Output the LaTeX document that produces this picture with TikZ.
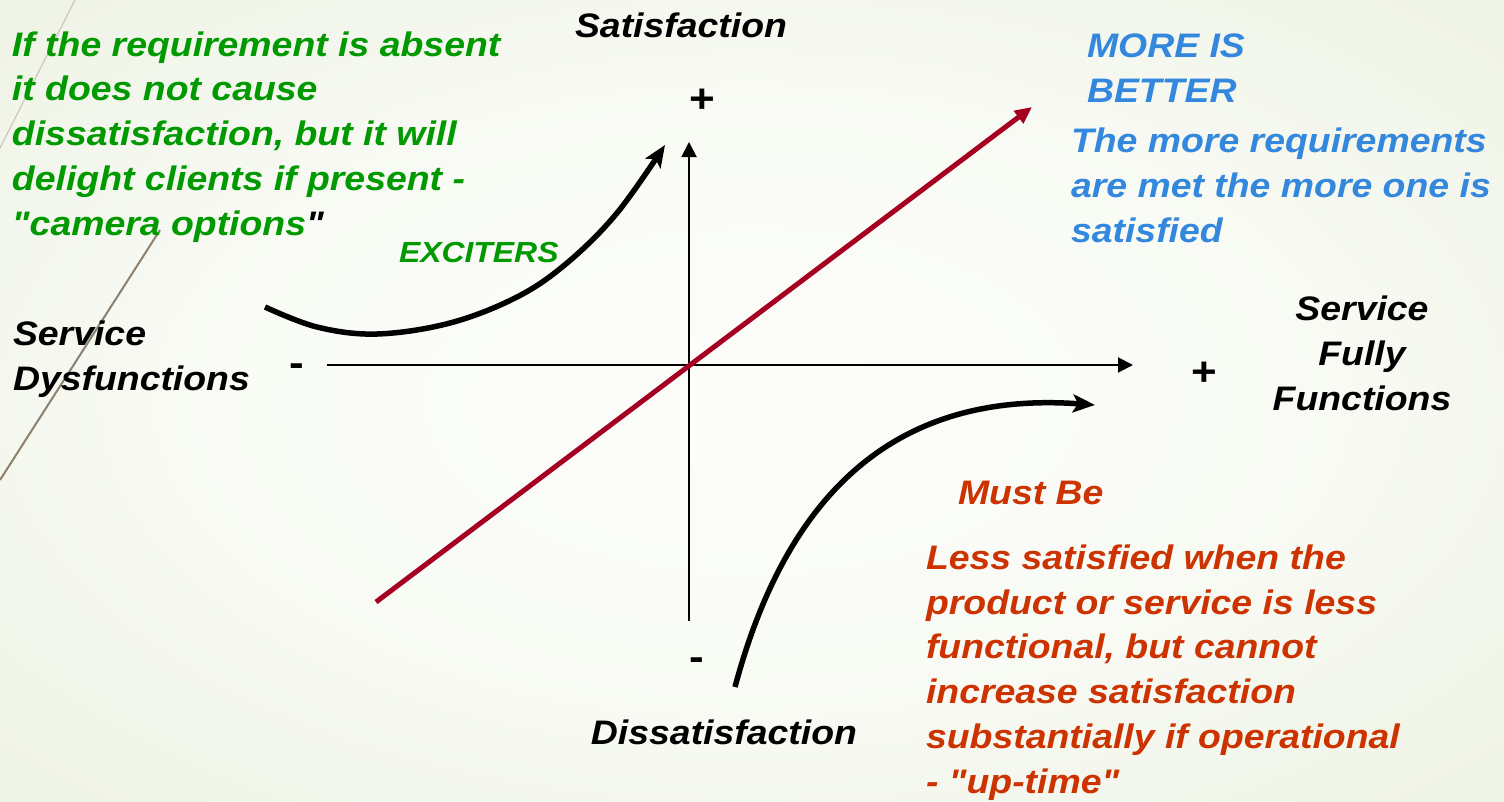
\documentclass[tikz,border=0pt]{standalone}
\usepackage{fontspec}
\setmainfont{Liberation Sans}[FakeStretch=1.1, Ligatures=TeXOff]
\usetikzlibrary{arrows.meta}
\definecolor{exgreen}{RGB}{0,153,0}
\definecolor{mbblue}{RGB}{51,136,221}
\definecolor{mbred}{RGB}{204,51,0}
\definecolor{linered}{RGB}{165,0,33}
\definecolor{decogray}{RGB}{200,200,190}
\definecolor{decobrown}{RGB}{140,128,110}
\pgfdeclareradialshading{bgshade}{\pgfpointorigin}{rgb(0bp)=(0.99,0.993,0.98); rgb(18bp)=(0.975,0.982,0.96); rgb(71bp)=(0.86,0.895,0.77)}
\begin{document}
\begin{tikzpicture}[x=1pt,y=-1pt,
  txt/.style={font=\bfseries\itshape\fontsize{34}{44.7}\selectfont, inner sep=0pt, outer sep=0pt, align=left},
  sign/.style={font=\bfseries\fontsize{40}{40}\selectfont, inner sep=0pt, outer sep=0pt},
  axisline/.style={line width=2pt, -{Triangle[length=15pt,width=15pt]}},
  curvearrow/.style={line width=5.5pt, -{Stealth[length=22pt,width=18pt,inset=5pt]}},
  redarrow/.style={line width=5pt, linered, -{Triangle[length=17pt,width=15pt]}}]
\shade[shading=bgshade] (0,0) rectangle (1504,801);
\useasboundingbox (0,0) rectangle (1504,801);
% decorative theme lines
\draw[line width=1.2pt, decogray] (75,0) -- (0,148);
\draw[line width=2pt, decobrown] (160,230) -- (0,480);
% axes
\coordinate (xL) at (327,365);
\coordinate (xR) at (1133,365);
\coordinate (yB) at (689,621);
\coordinate (yT) at (689,142);
\draw[axisline] (xL) -- (xR);
\draw[axisline] (yB) -- (yT);
% more is better line
\coordinate (rS) at (376,602);
\coordinate (rE) at (1032,107);
\draw[redarrow] (rS) -- (rE);
% exciters curve
\draw[curvearrow] plot[smooth, tension=0.6] coordinates {(265,307) (317,327) (377,334) (450,323) (517,297) (567,263) (617,213) (665,145)};
% must be curve
\coordinate (mS) at (735,687);
\coordinate (mE) at (1095,405);
\draw[curvearrow] (mS) .. controls (785,500) and (890,390) .. (mE);
% axis labels
\node[txt, anchor=base] (sat) at (681,37) {Satisfaction};
\node[txt, anchor=base] (dissat) at (724,744) {Dissatisfaction};
\node[txt, anchor=base west] (dysf) at (13,390) {Service\\Dysfunctions};
\node[txt, anchor=base, align=center] (fully) at (1362,410) {Service\\Fully\\Functions};
\node[sign] (ptop) at (702,101) {+};
\node[sign] (mbot) at (697,664) {-};
\node[sign] (mleft) at (297,370) {-};
\node[sign] (pright) at (1204,374) {+};
% category texts
\node[txt, text=exgreen, anchor=base west] (exdesc) at (12,235) {If the requirement is absent\\it does not cause\\dissatisfaction, but it will\\delight clients if present -\\"camera options\textcolor{black}{"}};
\node[txt, text=exgreen, anchor=base west, font=\bfseries\itshape\fontsize{29}{34}\selectfont] (exc) at (399,262) {EXCITERS};
\node[txt, text=mbblue, anchor=base west] (mib) at (1087,102) {MORE IS\\BETTER};
\node[txt, text=mbblue, anchor=base west] (mibdesc) at (1071,242) {The more requirements\\are met the more one is\\satisfied};
\node[txt, text=mbred, anchor=base west] (mb) at (958,504) {Must Be};
\node[txt, text=mbred, anchor=base west] (mbdesc) at (926,793) {Less satisfied when the\\product or service is less\\functional, but cannot\\increase satisfaction\\substantially if operational\\- "up-time"};
\end{tikzpicture}
\end{document}
